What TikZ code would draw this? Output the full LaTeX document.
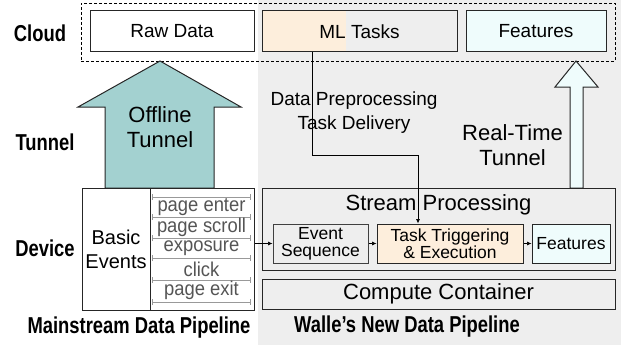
\documentclass[tikz,border=0pt]{standalone}
\usepackage{fontspec}
\setmainfont{Liberation Sans}
\newfontfamily\condbold[FakeStretch=0.8]{Liberation Sans}
\newfontfamily\condreg[FakeStretch=0.92]{Liberation Sans}
\usetikzlibrary{arrows.meta}
\definecolor{bggray}{HTML}{EEEEEE}
\definecolor{orangefill}{HTML}{FDEEDC}
\definecolor{cyanfill}{HTML}{EFFCFC}
\definecolor{tealfill}{HTML}{A3D1D0}
\definecolor{evgray}{HTML}{999999}
\definecolor{evtext}{HTML}{555555}
\tikzset{
  box/.style={draw=black!85, line width=1pt, inner sep=0pt, align=center},
  bigtxt/.style={font=\fontsize{22}{25}\selectfont},
  midtxt/.style={font=\fontsize{19}{24}\selectfont},
  smalltxt/.style={font=\fontsize{17.5}{17}\selectfont},
  evtxt/.style={font=\fontsize{20}{20}\condreg, text=evtext, inner sep=0pt},
  lbl/.style={font=\fontsize{23}{25}\condbold\bfseries, inner sep=0pt},
  conn/.style={line width=0.7pt, -{Latex[length=4.5pt,width=4pt]}},
  sep/.style={draw=evgray, line width=0.9pt, {Bar[width=6pt]}-{Bar[width=6pt]}},
  bigarrow/.style={draw=black!85, line width=1pt, line join=miter},
}
\begin{document}
\begin{tikzpicture}[x=1pt,y=-1pt]
\useasboundingbox (0,0) rectangle (621,345);
\fill[bggray] (258,0) rectangle (621,345);

% cloud row
\node[draw, line width=0.9pt, dash pattern=on 3pt off 2pt, minimum width=534pt, minimum height=58pt, inner sep=0pt] (cloud) at (348,32) {};
\node[box, fill=white, minimum width=164pt, minimum height=41pt, midtxt] (raw) at (172,31.5) {Raw Data};
\node[box, fill=bggray, minimum width=195pt, minimum height=41pt, midtxt,
  path picture={\fill[orangefill] (path picture bounding box.north west) rectangle ([xshift=84pt]path picture bounding box.south west);}] (ml) at (359.5,31.5) {ML Tasks};
\node[box, fill=cyanfill, minimum width=140pt, minimum height=41pt, midtxt] (feat) at (536,31.5) {Features};

% offline tunnel arrow
\draw[bigarrow, fill=tealfill] (160,61) -- (241,107) -- (214,107) -- (214,188) -- (105,188) -- (105,107) -- (78,107) -- cycle;
\node[bigtxt, align=center, inner sep=0pt] (offline) at (160,127) {Offline\\Tunnel};

% real-time tunnel arrow
\draw[bigarrow, fill=cyanfill] (576,61) -- (598,87) -- (583,87) -- (583,188) -- (570,188) -- (570,87) -- (555,87) -- cycle;
\node[bigtxt, align=center, inner sep=0pt] (realtime) at (512.5,145) {Real-Time\\Tunnel};

% stream processing
\node[box, fill=bggray, minimum width=353pt, minimum height=82pt] (stream) at (438.5,229) {};
\node[bigtxt, inner sep=0pt] (streamtitle) at (438.5,205) {Stream Processing};
\node[box, draw=black!75, fill=bggray, minimum width=95pt, minimum height=39pt, smalltxt] (es) at (320.5,243.5) {Event\\Sequence};
\node[box, fill=orangefill, minimum width=146pt, minimum height=39pt, smalltxt] (task) at (450,243.5) {Task Triggering\\\& Execution};
\node[box, fill=cyanfill, minimum width=78pt, minimum height=39pt, smalltxt] (featsm) at (571,243.5) {Features};

% compute container
\node[box, fill=bggray, minimum width=353pt, minimum height=30pt, bigtxt] (compute) at (438.5,294) {Compute Container};

% device
\node[box, fill=white, minimum width=68pt, minimum height=122pt, font=\fontsize{20}{24}\selectfont] (basic) at (116,249) {Basic\\Events};
\node[box, fill=white, minimum width=104pt, minimum height=122pt] (evcell) at (202,249) {};
\coordinate (s1a) at (152,197); \coordinate (s1b) at (251,197);
\coordinate (s2a) at (152,217); \coordinate (s2b) at (251,217);
\coordinate (s3a) at (152,238); \coordinate (s3b) at (251,238);
\coordinate (s4a) at (152,258); \coordinate (s4b) at (251,258);
\coordinate (s5a) at (152,280); \coordinate (s5b) at (251,280);
\coordinate (s6a) at (152,302); \coordinate (s6b) at (251,302);
\draw[sep] (s1a) -- (s1b);
\draw[sep] (s2a) -- (s2b);
\draw[sep] (s3a) -- (s3b);
\draw[sep] (s4a) -- (s4b);
\draw[sep] (s5a) -- (s5b);
\draw[sep] (s6a) -- (s6b);
\node[evtxt] (e1) at (201.5,207) {page enter};
\node[evtxt] (e2) at (201.5,227) {page scroll};
\node[evtxt] (e3) at (201.5,248) {exposure};
\node[evtxt] (e4) at (201.5,269) {click};
\node[evtxt] (e5) at (201.5,290) {page exit};

% left labels
\node[lbl] (lcloud) at (40,33) {Cloud};
\node[lbl] (ltunnel) at (45,142) {Tunnel};
\node[lbl] (ldevice) at (45,248) {Device};
\node[lbl] (lmain) at (139,328) {Mainstream Data Pipeline};
\node[lbl] (lwalle) at (407,327) {Walle’s New Data Pipeline};

% connectors
\coordinate (turn) at (418,155);
\draw[conn] ([xshift=51pt]ml.south west) |- (turn) -- (turn |- task.north);
\node[midtxt, align=center, inner sep=0pt] (dptext) at (354,112.5) {Data Preprocessing\\Task Delivery};
\draw[conn] (evcell.east |- es.west) -- (es.west);
\draw[conn] (es) -- (task);
\draw[conn] (task) -- (featsm);
\end{tikzpicture}
\end{document}
